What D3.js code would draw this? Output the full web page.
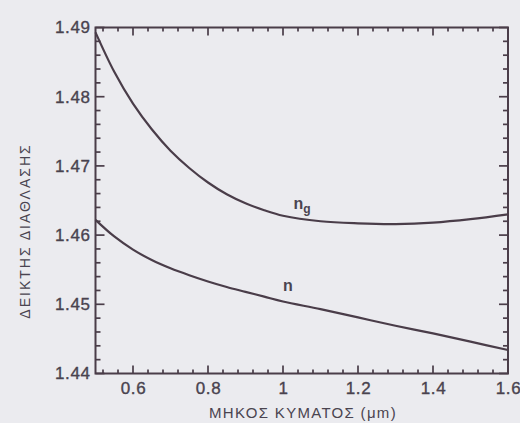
<!DOCTYPE html>
<html>
<head>
<meta charset="utf-8">
<script src="https://cdn.jsdelivr.net/npm/d3@7/dist/d3.min.js"></script>
<style>
  html, body { margin: 0; padding: 0; background: #ebebef; }
  svg { display: block; }
  text { font-family: "Liberation Sans", Arial, sans-serif; fill: #4a4450; }
</style>
</head>
<body>
<svg id="chart" width="520" height="423"></svg>
<script>
// ---- data ----
const wavelength = [0.5, 0.55, 0.6, 0.65, 0.7, 0.75, 0.8, 0.85, 0.9, 0.95, 1.0, 1.1, 1.2, 1.3, 1.4, 1.5, 1.6];
const groupIndex = [1.4893, 1.4836, 1.4790, 1.4753, 1.4722, 1.4697, 1.4676, 1.4659, 1.4646, 1.4636, 1.4628, 1.4620, 1.4617, 1.4616, 1.4618, 1.4623, 1.4630];
const refIndex   = [1.4622, 1.4598, 1.4579, 1.4564, 1.4552, 1.4542, 1.4533, 1.4525, 1.4518, 1.4511, 1.4504, 1.4493, 1.4481, 1.4469, 1.4458, 1.4446, 1.4434];
const xTickValues = [0.6, 0.8, 1.0, 1.2, 1.4, 1.6];
const xTickLabels = ["0.6", "0.8", "1", "1.2", "1.4", "1.6"];
const yTickValues = [1.44, 1.45, 1.46, 1.47, 1.48, 1.49];
const yTickLabels = ["1.44", "1.45", "1.46", "1.47", "1.48", "1.49"];
const xMinorTicks = [0.52, 0.56, 0.64, 0.68, 0.72, 0.76, 0.84, 0.88, 0.92, 0.96, 1.04, 1.08, 1.12, 1.16, 1.24, 1.28, 1.32, 1.36, 1.44, 1.48, 1.52, 1.56];
const yMinorTicks = [1.442, 1.444, 1.446, 1.448, 1.452, 1.454, 1.456, 1.458, 1.462, 1.464, 1.466, 1.468, 1.472, 1.474, 1.476, 1.478, 1.482, 1.484, 1.486, 1.488];
const xTitle = "ΜΗΚΟΣ ΚΥΜΑΤΟΣ (μm)";
const yTitle = "ΔΕΙΚΤΗΣ ΔΙΑΘΛΑΣΗΣ";

// ---- layout ----
const svg = d3.select("#chart");
const L = 95.5, R = 508, T = 27.5, B = 373.5;
const ink = "#4a3d49";

const x = d3.scaleLinear().domain([0.5, 1.6]).range([L, R]);
const y = d3.scaleLinear().domain([1.44, 1.49]).range([B, T]);

// tick marks drawn as small rectangles (inward on all four sides)
const tg = svg.append("g").attr("fill", ink);
function xTick(v, len) {
  tg.append("rect").attr("x", x(v) - 0.85).attr("y", B - len).attr("width", 1.7).attr("height", len);
  tg.append("rect").attr("x", x(v) - 0.85).attr("y", T).attr("width", 1.7).attr("height", len);
}
function yTick(v, len) {
  tg.append("rect").attr("x", L).attr("y", y(v) - 0.85).attr("width", len).attr("height", 1.7);
  tg.append("rect").attr("x", R - len).attr("y", y(v) - 0.85).attr("width", len).attr("height", 1.7);
}
xMinorTicks.forEach(v => xTick(v, 4));
xTickValues.forEach(v => xTick(v, 8));
yMinorTicks.forEach(v => yTick(v, 5));
yTickValues.forEach(v => yTick(v, 9));

// tick labels via d3 axes
function styleAxis(g) {
  g.select(".domain").remove();
  g.selectAll(".tick line").remove();
  g.selectAll(".tick text").attr("fill", "#463f4b")
    .style("font-size", "17px").style("letter-spacing", "0.6px")
    .attr("stroke", "#463f4b").attr("stroke-width", 0.35);
}
svg.append("g").attr("transform", `translate(0,${B})`)
  .call(d3.axisBottom(x).tickValues(xTickValues).tickSize(0).tickPadding(8)
    .tickFormat((d, i) => xTickLabels[i])).call(styleAxis);
svg.append("g").attr("transform", `translate(${L},0)`)
  .call(d3.axisLeft(y).tickValues(yTickValues).tickSize(0).tickPadding(5)
    .tickFormat((d, i) => yTickLabels[i])).call(styleAxis);

// frame
svg.append("rect").attr("x", L).attr("y", T).attr("width", R - L).attr("height", B - T)
  .attr("fill", "none").attr("stroke", ink).attr("stroke-width", 2);

// curves
const line = d3.line().x(d => x(d[0])).y(d => y(d[1])).curve(d3.curveCatmullRom.alpha(0.5));
svg.append("path").datum(wavelength.map((w, i) => [w, groupIndex[i]]))
  .attr("d", line).attr("fill", "none").attr("stroke", ink).attr("stroke-width", 2.2);
svg.append("path").datum(wavelength.map((w, i) => [w, refIndex[i]]))
  .attr("d", line).attr("fill", "none").attr("stroke", ink).attr("stroke-width", 2.2);

// curve labels
const ng = svg.append("text").attr("x", x(1.028)).attr("y", y(1.4637))
  .style("font-size", "16px").style("font-weight", "bold");
ng.append("tspan").text("n");
ng.append("tspan").attr("dy", 4).style("font-size", "12px").text("g");
svg.append("text").attr("x", x(1.0)).attr("y", y(1.4519))
  .style("font-size", "16px").style("font-weight", "bold").text("n");

// axis titles
svg.append("text").attr("x", (208 + 398) / 2).attr("y", 418).attr("text-anchor", "middle")
  .style("font-size", "15px").style("letter-spacing", "1.3px").text(xTitle);
svg.append("text").attr("transform", `translate(30,231) rotate(-90)`).attr("text-anchor", "middle")
  .style("font-size", "14px").style("letter-spacing", "2px").text(yTitle);
</script>
</body>
</html>
